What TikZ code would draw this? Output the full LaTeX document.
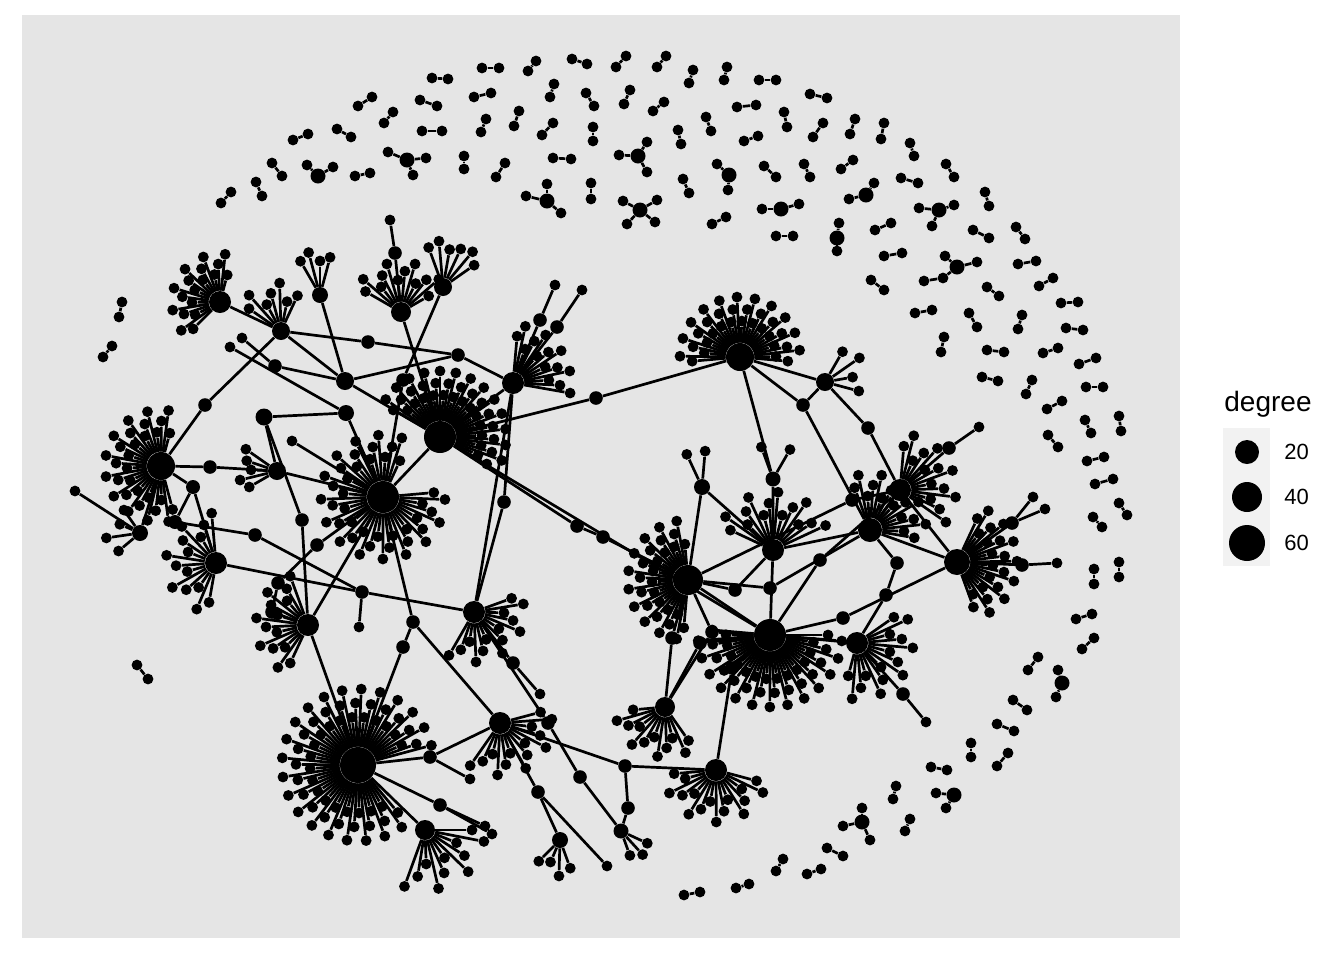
\documentclass[tikz,border=0pt]{standalone}
\usepackage{fontspec}
\setmainfont{Liberation Sans}
\usetikzlibrary{calc}
\definecolor{panelgrey}{gray}{0.90}
\definecolor{keygrey}{gray}{0.95}
\tikzset{
  leaf/.style={circle,fill=black,inner sep=0pt,minimum size=5.4pt},
  mid/.style={circle,fill=black,inner sep=0pt,minimum size=6.8pt},
  hub/.style={circle,fill=black,inner sep=0pt,minimum size=#1},
  link/.style={line width=1.35pt},
}
% leaves round a hub: name, count, first angle, last angle, inner r, outer r
\newcommand{\fan}[6]{%
  \foreach \i in {1,...,#2}{
    \pgfmathsetmacro{\ang}{#3+(\i-1)*((#4-#3)/max(#2-1,1))}
    \pgfmathsetmacro{\rad}{#5+(#6-#5)*mod(\i,3)/2}
    \node[leaf] (#1-\i) at ($(#1)+(\ang:\rad)$) {};
    \draw[link] (#1) -- (#1-\i);
  }
}

\begin{document}
\begin{tikzpicture}[x=0.5pt,y=-0.5pt]
    \useasboundingbox (0,0) rectangle (1344,960);
    \fill[panelgrey] (22,15) rectangle (1180,938);

    % big hubs
    \node[hub=16pt] (A) at (440,437) {};
    \node[hub=16pt] (B) at (383,497) {};
    \node[hub=18pt] (C) at (358,765) {};
    \node[hub=16pt] (D) at (770,635) {};
    \node[hub=14pt] (E) at (740,357) {};
    \node[hub=15pt] (F) at (688,580) {};
    \node[hub=14pt] (G) at (161,466) {};
    \node[hub=12pt] (H) at (870,530) {};
    \node[hub=13pt] (I) at (957,562) {};
    \node[hub=11pt] (J) at (220,302) {};
    \node[hub=11pt] (K) at (513,383) {};
    \node[hub=11pt] (L) at (474,612) {};
    \node[hub=11pt] (M) at (500,723) {};
    \node[hub=11pt] (N) at (716,770) {};
    \node[hub=10pt] (O) at (665,707) {};
    \node[hub=11pt] (P) at (857,643) {};
    \node[hub=10pt] (Q) at (425,830) {};
    \node[hub=11pt] (R) at (308,625) {};
    \node[hub=11pt] (S) at (216,563) {};
    \node[hub=11pt] (T) at (773,550) {};
    \node[hub=11pt] (U) at (900,490) {};
    % small hubs
    \node[hub=10pt] (J2) at (401,312) {};
    \node[hub=9pt] (J3) at (443,287) {};
    \node[hub=8pt] (J4) at (320,295) {};
    \node[hub=9pt] (J5) at (281,331) {};
    \node[hub=9pt] (k1) at (345,381) {};
    \node[hub=8.5pt] (k2) at (264,417) {};
    \node[hub=9pt] (k3) at (277,471) {};
    \node[hub=8pt] (k4) at (346,413) {};
    \node[hub=7pt] (k5) at (193,487) {};
    \node[hub=8pt] (k6) at (140,533) {};
    \node[hub=7pt] (k7) at (175,522) {};
    \node[hub=8pt] (V) at (560,840) {};
    \node[hub=7.5pt] (W) at (621,831) {};
    \node[hub=9pt] (X) at (825,382) {};
    \node[hub=8pt] (Y) at (702,487) {};
    \node[hub=7.5pt] (Z) at (773,479) {};
    % in-between nodes
    \node[mid] (m1) at (596,398) {};
    \node[mid] (m2) at (458,355) {};
    \node[mid] (m3) at (368,342) {};
    \node[mid] (m4) at (205,405) {};
    \node[mid] (m5) at (403,380) {};
    \node[mid] (m6) at (210,467) {};
    \node[mid] (m7) at (255,535) {};
    \node[mid] (m8) at (362,592) {};
    \node[mid] (m9) at (302,520) {};
    \node[mid] (m10) at (278,583) {};
    \node[mid] (m11) at (317,545) {};
    \node[mid] (m12) at (413,622) {};
    \node[mid] (m13) at (430,757) {};
    \node[mid] (m14) at (440,805) {};
    \node[mid] (m15) at (625,766) {};
    \node[mid] (m16) at (628,808) {};
    \node[mid] (m17) at (513,663) {};
    \node[mid] (m18) at (548,723) {};
    \node[mid] (m19) at (580,777) {};
    \node[mid] (m20) at (538,792) {};
    \node[mid] (m22) at (577,526) {};
    \node[mid] (m23) at (603,537) {};
    \node[mid] (m24) at (504,502) {};
    \node[mid] (m25) at (803,405) {};
    \node[mid] (m26) at (868,428) {};
    \node[mid] (m27) at (672,638) {};
    \node[mid] (m28) at (700,643) {};
    \node[mid] (m29) at (843,618) {};
    \node[mid] (m30) at (903,694) {};
    \node[mid] (m31) at (1022,565) {};
    \node[mid] (m32) at (949,448) {};
    \node[mid] (m33) at (1012,523) {};
    \node[mid] (m34) at (395,253) {};
    \node[mid] (m35) at (540,320) {};
    \node[mid] (m36) at (557,327) {};
    \node[mid] (m37) at (403,647) {};
    \node[mid] (m38) at (897,563) {};
    \node[mid] (m39) at (886,595) {};
    \node[mid] (m40) at (272,612) {};
    \node[mid] (m41) at (735,590) {};
    \node[mid] (m42) at (770,588) {};
    \node[mid] (m43) at (820,560) {};
    \node[mid] (m44) at (712,632) {};
    \node[mid] (m45) at (732,668) {};
    \node[mid] (m46) at (852,500) {};
    \node[mid] (m47) at (275,366) {};
    % single ends
    \node[leaf] (e1) at (390,220) {};
    \node[leaf] (e2) at (555,285) {};
    \node[leaf] (e3) at (582,290) {};
    \node[leaf] (e4) at (470,779) {};
    \node[leaf] (e5) at (485,826) {};
    \node[leaf] (e6) at (492,834) {};
    \node[leaf] (e7) at (540,694) {};
    \node[leaf] (e8) at (926,722) {};
    \node[leaf] (e9) at (1057,563) {};
    \node[leaf] (e10) at (979,427) {};
    \node[leaf] (e11) at (1033,497) {};
    \node[leaf] (e12) at (1045,509) {};
    \node[leaf] (e13) at (607,866) {};
    \node[leaf] (e14) at (242,338) {};
    \node[leaf] (e15) at (230,347) {};
    \node[leaf] (e16) at (75,491) {};
    \node[leaf] (e17) at (292,441) {};
    \node[leaf] (e18) at (359,627) {};

    % links between groups
    \draw[link] (A) -- (m1) -- (E);
    \draw[link] (A) -- (K);
    \draw[link] (A) -- (B);
    \draw[link] (A) -- (m22) -- (m23) -- (F);
    \draw[link] (A) -- (D);
    \draw[link] (A) -- (J2);
    \draw[link] (A) -- (k1);
    \draw[link] (K) -- (m2) -- (m3) -- (J5);
    \draw[link] (m2) -- (k1);
    \draw[link] (J) -- (J5) -- (k1);
    \draw[link] (J5) -- (m4) -- (G);
    \draw[link] (J2) -- (m34) -- (e1);
    \draw[link] (J3) -- (m5) -- (B);
    \draw[link] (J4) -- (k1);
    \draw[link] (k2) -- (k4) -- (B);
    \draw[link] (k2) -- (k3) -- (B);
    \draw[link] (G) -- (m6) -- (k3);
    \draw[link] (G) -- (k5) -- (S);
    \draw[link] (G) -- (k6);
    \draw[link] (k6) -- (e16);
    \draw[link] (k5) -- (k7) -- (m7) -- (m8) -- (L);
    \draw[link] (S) -- (m8);
    \draw[link] (m9) -- (R);
    \draw[link] (m9) -- (k2);
    \draw[link] (R) -- (C);
    \draw[link] (R) -- (B);
    \draw[link] (R) -- (m40) -- (m10) -- (m11) -- (B);
    \draw[link] (B) -- (m12) -- (m37) -- (C);
    \draw[link] (m12) -- (M);
    \draw[link] (C) -- (m13) -- (M);
    \draw[link] (m13) -- (e4);
    \draw[link] (C) -- (m14) -- (e5);
    \draw[link] (m14) -- (e6);
    \draw[link] (C) -- (Q);
    \draw[link] (M) -- (m15) -- (N);
    \draw[link] (m15) -- (m16) -- (W);
    \draw[link] (L) -- (m17) -- (e7);
    \draw[link] (L) -- (m18) -- (m19) -- (W);
    \draw[link] (M) -- (m20) -- (V);
    \draw[link] (m20) -- (e13);
    \draw[link] (K) -- (m24) -- (L);
    \draw[link] (K) -- (L);
    \draw[link] (K) -- (m35) -- (e2);
    \draw[link] (K) -- (m36) -- (e3);
    \draw[link] (k1) -- (m47) -- (e14);
    \draw[link] (k4) -- (e15);
    \draw[link] (B) -- (e17);
    \draw[link] (m8) -- (e18);
    \draw[link] (E) -- (Z) -- (T);
    \draw[link] (E) -- (m25) -- (H);
    \draw[link] (E) -- (X) -- (m26) -- (U);
    \draw[link] (m25) -- (X);
    \draw[link] (F) -- (Y);
    \draw[link] (F) -- (m27) -- (O) -- (m28) -- (D);
    \draw[link] (N) -- (m45) -- (D);
    \draw[link] (F) -- (m44) -- (D);
    \draw[link] (F) -- (m41) -- (T);
    \draw[link] (F) -- (D);
    \draw[link] (F) -- (m42) -- (H);
    \draw[link] (F) -- (m46) -- (U);
    \draw[link] (T) -- (D);
    \draw[link] (T) -- (H) -- (U);
    \draw[link] (H) -- (I);
    \draw[link] (U) -- (I);
    \draw[link] (D) -- (m43) -- (U);
    \draw[link] (D) -- (P);
    \draw[link] (D) -- (m29) -- (I);
    \draw[link] (P) -- (m30) -- (e8);
    \draw[link] (P) -- (m39) -- (m38) -- (H);
    \draw[link] (I) -- (m31) -- (e9);
    \draw[link] (U) -- (m32) -- (e10);
    \draw[link] (I) -- (m33) -- (e11);
    \draw[link] (m33) -- (e12);
    \draw[link] (O) -- (m44);
    \draw[link] (Y) -- (T);

    % leaves
    \fan{A}{40}{-150}{30}{42}{66}
    \fan{B}{42}{-5}{295}{40}{62}
    \fan{C}{62}{50}{345}{48}{76}
    \fan{D}{40}{0}{185}{44}{72}
    \fan{E}{34}{-185}{5}{36}{60}
    \fan{F}{30}{95}{265}{36}{60}
    \fan{G}{30}{75}{285}{34}{56}
    \fan{H}{16}{-110}{10}{34}{56}
    \fan{I}{22}{-65}{70}{36}{60}
    \fan{J}{18}{135}{285}{28}{48}
    \fan{K}{14}{-85}{10}{36}{58}
    \fan{L}{14}{-20}{120}{30}{50}
    \fan{M}{14}{-15}{125}{32}{52}
    \fan{N}{16}{15}{175}{32}{52}
    \fan{O}{12}{55}{175}{32}{50}
    \fan{P}{15}{-35}{105}{34}{56}
    \fan{Q}{11}{0}{110}{34}{60}
    \fan{R}{14}{115}{250}{32}{52}
    \fan{S}{14}{100}{265}{30}{50}
    \fan{T}{14}{-155}{-25}{36}{58}
    \fan{U}{14}{-85}{35}{32}{56}
    \fan{J2}{12}{-150}{-30}{32}{50}
    \fan{J3}{6}{-110}{-35}{38}{46}
    \fan{J4}{4}{-120}{-75}{34}{44}
    \fan{J5}{7}{-145}{-65}{30}{48}
    \fan{k3}{5}{150}{215}{26}{38}
    \fan{k6}{4}{140}{235}{22}{34}
    \fan{V}{4}{70}{135}{24}{36}
    \fan{W}{3}{25}{70}{26}{32}
    \fan{X}{4}{-60}{15}{28}{42}
    \fan{Y}{2}{-115}{-85}{36}{36}
    \fan{Z}{2}{-110}{-60}{34}{34}

    % small stars of the outer ring
    \foreach \cx/\cy/\lv [count=\k] in {
        318/176/{307/165,333/167}, 407/160/{388/152,426/158,413/175},
        547/201/{526/196,547/184,561/213}, 638/156/{619/155,647/142,647/172},
        640/210/{623/201,657/200,627/224,655/222}, 729/175/{717/164,728/190},
        866/195/{849/199,874/183}, 939/210/{919/208,954/205,932/226},
        781/209/{762/209,799/204}, 837/238/{839/223,837/251},
        957/267/{945/256,977/262,943/278}, 1062/683/{1058/670,1056/697},
        954/795/{936/793,946/808}, 862/822/{843/826,862/808,870/840}}{
      \node[hub=7.5pt] (s\k) at (\cx,\cy) {};
      \foreach \lx/\ly [count=\j] in \lv {
        \node[leaf] (s\k-\j) at (\lx,\ly) {};
        \draw[link] (s\k) -- (s\k-\j);
      }
    }
    \node[leaf] (s11-x) at (924,281) {};
    \draw[link] (s11-3) -- (s11-x);

    % pairs of the outer ring
    \foreach \ax/\ay/\bx/\by [count=\k] in {
        221/203/231/192, 256/182/262/196, 272/163/282/176, 293/140/308/134,
        337/129/351/137, 355/176/370/173, 358/106/372/97, 384/123/393/112,
        420/100/437/106, 422/131/442/131, 432/78/448/79, 464/156/464/169,
        482/68/499/68, 474/97/491/93, 481/132/486/119, 496/177/505/163,
        514/126/519/111, 528/71/536/61, 542/135/553/123, 550/97/554/84,
        553/158/571/159, 572/59/587/64, 586/93/594/106, 593/127/593/141,
        591/183/591/199, 616/67/626/56, 624/104/630/90, 657/67/666/56,
        689/83/693/70, 724/80/727/67, 759/80/776/80, 810/94/827/98,
        653/111/664/102, 737/107/756/105, 706/117/711/131, 678/130/681/144,
        784/112/787/127, 744/141/758/136, 813/137/823/123, 850/134/855/119,
        881/139/884/123, 910/143/914/156, 683/179/689/193, 764/166/776/177,
        804/164/810/177, 841/169/853/160, 901/178/918/183, 946/164/954/177,
        985/192/989/206, 712/224/726/217, 776/236/793/236, 875/230/891/223,
        973/230/989/238, 1016/227/1025/239, 884/256/902/253, 871/280/884/290,
        1018/264/1036/261, 987/287/999/296, 1039/286/1053/278, 915/313/932/310,
        969/313/977/327, 1018/329/1022/315, 1061/303/1078/302, 1066/328/1083/330,
        941/352/944/337, 987/350/1004/352, 1043/353/1058/348, 1079/364/1096/358,
        982/377/998/381, 1026/394/1032/380, 1086/387/1103/387, 1047/409/1062/401,
        1048/435/1058/447, 1085/420/1091/433, 1119/416/1121/431, 1087/461/1104/457,
        1095/484/1113/479, 1119/503/1127/515, 1093/517/1102/527, 1094/569/1094/584,
        1119/562/1119/577, 1076/619/1092/614, 1082/649/1094/638, 1028/670/1038/657,
        1013/700/1027/710, 997/724/1014/731, 971/743/971/757, 997/766/1008/753,
        931/767/947/770, 893/799/896/786, 905/831/910/819, 827/848/843/856,
        776/871/783/859, 807/874/821/869, 736/888/749/884, 684/895/700/892,
        122/302/119/317, 112/346/103/357, 137/665/148/679}{
      \node[leaf] (pa\k) at (\ax,\ay) {};
      \node[leaf] (pb\k) at (\bx,\by) {};
      \draw[link] (pa\k) -- (pb\k);
    }

    % legend
    \node[anchor=base west,inner sep=0pt,font=\fontsize{14}{16}\selectfont] (title) at (1224,411) {degree};
    \fill[keygrey] (1223,428) rectangle (1270,566);
    \node[hub=12pt] (key20) at (1247,452) {};
    \node[hub=15pt] (key40) at (1247,497) {};
    \node[hub=18pt] (key60) at (1247,543) {};
    \node[anchor=west,inner sep=0pt,font=\fontsize{11}{13}\selectfont] (lab20) at (1284,452) {20};
    \node[anchor=west,inner sep=0pt,font=\fontsize{11}{13}\selectfont] (lab40) at (1284,497) {40};
    \node[anchor=west,inner sep=0pt,font=\fontsize{11}{13}\selectfont] (lab60) at (1284,543) {60};
\end{tikzpicture}
\end{document}
